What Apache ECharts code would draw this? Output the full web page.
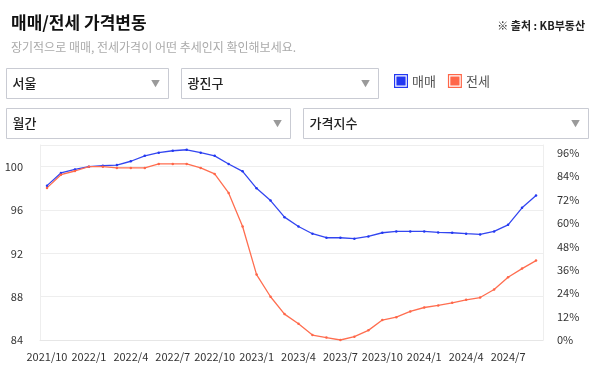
<!DOCTYPE html>
<html>
<head>
<meta charset="utf-8">
<script src="https://cdn.jsdelivr.net/npm/echarts@6/dist/echarts.min.js"></script>
<style>
html,body{margin:0;padding:0;background:#fff;}
#c{width:600px;height:371px;}
</style>
</head>
<body>
<div id="c"></div>
<script>
var months = ['2021/10','2021/11','2021/12','2022/1','2022/2','2022/3','2022/4','2022/5','2022/6','2022/7','2022/8','2022/9','2022/10','2022/11','2022/12','2023/1','2023/2','2023/3','2023/4','2023/5','2023/6','2023/7','2023/8','2023/9','2023/10','2023/11','2023/12','2024/1','2024/2','2024/3','2024/4','2024/5','2024/6','2024/7','2024/8','2024/9'];
var saleIndex = [98.25,99.42,99.75,100.0,100.09,100.15,100.5,101.0,101.29,101.47,101.56,101.29,101.0,100.25,99.57,98.0,96.87,95.34,94.48,93.81,93.44,93.44,93.35,93.56,93.9,94.02,94.02,94.02,93.93,93.9,93.81,93.75,94.02,94.63,96.2,97.33];
var leaseIndex = [98.04,99.26,99.6,100.0,100.0,99.88,99.88,99.88,100.25,100.25,100.25,99.88,99.33,97.58,94.48,90.04,87.99,86.39,85.5,84.46,84.22,84.0,84.31,84.89,85.84,86.11,86.64,87.0,87.19,87.43,87.71,87.92,88.66,89.79,90.59,91.33];
var seriesNames = ['매매','전세'];
var leftTicks = {min:84, max:102, step:4};
var rightTicks = {min:0, max:100, step:12};

var FONT = "'Noto Sans CJK KR', 'Noto Sans', sans-serif";
var BLUE = '#2338f2';
var RED = '#ff6648';
var ring = 'path://M0,0H14V14H0Z M1.2,1.2V12.8H12.8V1.2Z M2.4,2.4H11.6V11.6H2.4Z';

function box(x, y, w, h, label) {
  return [
    {type:'rect', shape:{x:x, y:y, width:w, height:h}, style:{fill:'#fff', stroke:'#c9cbd3', lineWidth:1}},
    {type:'text', x:x+6, y:y+h/2, style:{text:label, fill:'#222', font:'500 13px ' + FONT, textVerticalAlign:'middle'}},
    {type:'text', x:x+w-13, y:y+h/2, style:{text:'▼', fill:'#9a9a9a', font:'9px ' + FONT, textAlign:'center', textVerticalAlign:'middle'}}
  ];
}

var chart = echarts.init(document.getElementById('c'), null, {renderer:'canvas'});
var graphics = [].concat(
  box(6.5, 68.5, 162, 30, '서울'),
  box(181.5, 68.5, 197, 30, '광진구'),
  box(6.5, 108.5, 284, 30, '월간'),
  box(303.5, 108.5, 285, 30, '가격지수')
);

chart.setOption({
  animation:false,
  textStyle:{fontFamily:FONT},
  title:[
    {text:'매매/전세 가격변동', left:6, top:9, textStyle:{fontSize:17, fontWeight:'bold', color:'#111', fontFamily:FONT}},
    {text:'※ 출처 : KB부동산', right:10, top:15, textStyle:{fontSize:11, fontWeight:'bold', color:'#222', fontFamily:FONT}},
    {text:'장기적으로 매매, 전세가격이 어떤 추세인지 확인해보세요.', left:6, top:36, textStyle:{fontSize:12, fontWeight:'normal', color:'#aaa', fontFamily:FONT}}
  ],
  graphic:graphics,
  legend:{
    data:seriesNames, left:389, top:69, itemWidth:14, itemHeight:14, itemGap:12,
    icon:ring,
    textStyle:{fontSize:13, color:'#555', fontFamily:FONT, padding:[0,0,0,-1]}
  },
  grid:{left:40, right:57, top:145, bottom:31, containLabel:false},
  xAxis:{
    type:'category', data:months, boundaryGap:true,
    axisLine:{lineStyle:{color:'#e6e6e6'}},
    axisTick:{show:false},
    axisLabel:{interval:2, fontSize:11, color:'#333', margin:11, fontFamily:FONT}
  },
  yAxis:[
    {type:'value', min:leftTicks.min, max:leftTicks.max, interval:leftTicks.step,
     axisLine:{show:true, lineStyle:{color:'#eeeeee'}},
     axisTick:{show:false},
     axisLabel:{fontSize:11, color:'#333', margin:17, showMaxLabel:false, fontFamily:FONT},
     splitLine:{show:true, lineStyle:{color:'#eeeeee'}}
    },
    {type:'value', min:rightTicks.min, max:rightTicks.max, interval:rightTicks.step, position:'right',
     axisLine:{show:true, lineStyle:{color:'#eeeeee'}},
     axisTick:{show:false},
     axisLabel:{fontSize:11, color:'#333', margin:14, showMaxLabel:false, formatter:'{value}%', fontFamily:FONT},
     splitLine:{show:false}
    }
  ],
  series:[
    {name:seriesNames[0], type:'line', data:saleIndex, yAxisIndex:0, color:BLUE,
     symbol:'circle', symbolSize:2.5, showSymbol:true,
     lineStyle:{width:1.3, color:'#3346f0'}, itemStyle:{color:BLUE}},
    {name:seriesNames[1], type:'line', data:leaseIndex, yAxisIndex:0, color:RED,
     symbol:'circle', symbolSize:2.5, showSymbol:true,
     lineStyle:{width:1.3, color:'#ff6e50'}, itemStyle:{color:RED}}
  ]
});
</script>
</body>
</html>
